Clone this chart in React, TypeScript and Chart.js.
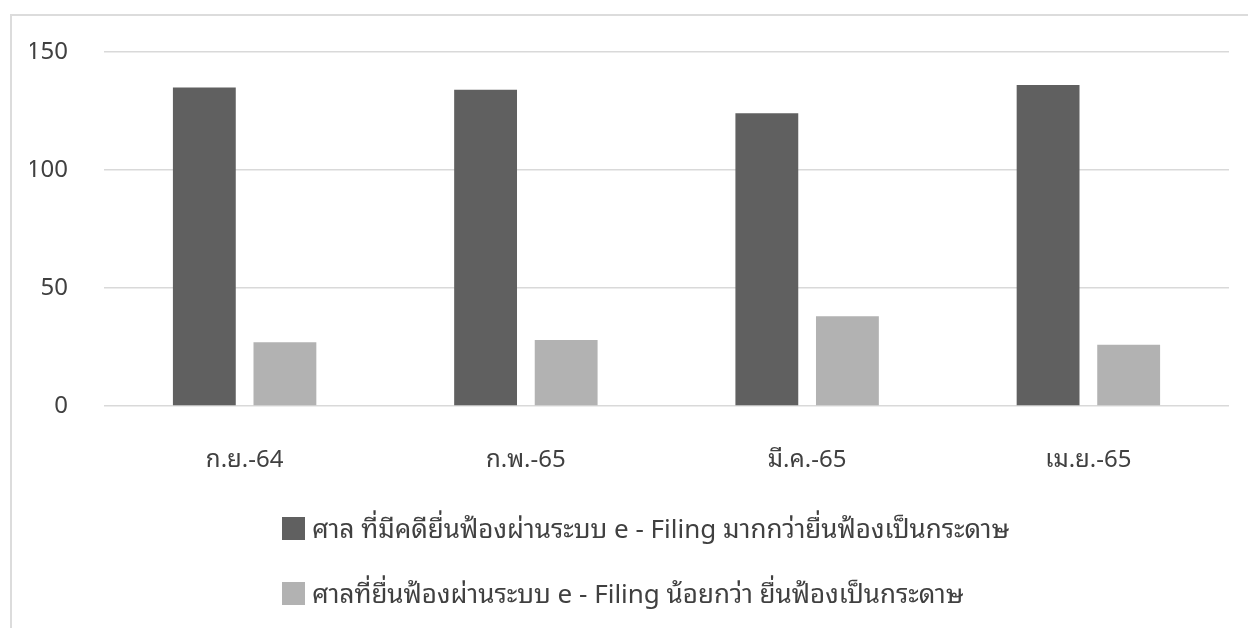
import React, { useEffect, useRef } from 'react';
import { Chart, registerables } from 'chart.js';

Chart.register(...registerables);

// Months shown on the category axis
const categories = ['ก.ย.-64', 'ก.พ.-65', 'มี.ค.-65', 'เม.ย.-65'];

// Series names
const seriesLabels = [
  'ศาล ที่มีคดียื่นฟ้องผ่านระบบ e - Filing มากกว่ายื่นฟ้องเป็นกระดาษ',
  'ศาลที่ยื่นฟ้องผ่านระบบ e - Filing น้อยกว่า ยื่นฟ้องเป็นกระดาษ',
];

// Number of courts per month
const moreThanPaper = [135, 134, 124, 136];
const lessThanPaper = [27, 28, 38, 26];

// Value axis
const yMin = 0;
const yMax = 150;
const yStep = 50;

const seriesColors = ['#606060', '#b2b2b2'];

const FONT =
  '"Noto Sans Thai Looped", "Noto Sans Thai", "Leelawadee UI", Tahoma, "Noto Sans", "Open Sans", sans-serif';
const TEXT_COLOR = '#404040';

export default function App() {
  const canvasRef = useRef<HTMLCanvasElement>(null);

  useEffect(() => {
    const canvas = canvasRef.current;
    if (!canvas) return;
    const chart = new Chart(canvas, {
      type: 'bar',
      data: {
        labels: categories,
        datasets: [
          {
            label: seriesLabels[0],
            data: moreThanPaper,
            backgroundColor: seriesColors[0],
            categoryPercentage: 0.573,
            barPercentage: 0.78,
          },
          {
            label: seriesLabels[1],
            data: lessThanPaper,
            backgroundColor: seriesColors[1],
            categoryPercentage: 0.573,
            barPercentage: 0.78,
          },
        ],
      },
      options: {
        responsive: false,
        animation: false,
        layout: { padding: { left: 30, top: 52, right: 19, bottom: 122 } },
        plugins: {
          legend: { display: false },
          tooltip: { enabled: false },
        },
        scales: {
          x: {
            grid: { display: false },
            border: { display: false },
            ticks: {
              padding: 32,
              color: TEXT_COLOR,
              font: { family: FONT, size: 24 },
            },
            afterFit: (scale: any) => {
              scale.height = 100;
            },
          },
          y: {
            min: yMin,
            max: yMax,
            ticks: {
              stepSize: yStep,
              padding: 36,
              color: TEXT_COLOR,
              font: { family: FONT, size: 24 },
            },
            grid: { color: '#d9d9d9', lineWidth: 1.5, drawTicks: false },
            border: { display: false },
            afterFit: (scale: any) => {
              scale.width = 74;
            },
          },
        },
      },
    });
    return () => chart.destroy();
  }, []);

  return (
    <div
      style={{
        position: 'fixed',
        left: 0,
        top: 0,
        width: 1248,
        height: 628,
        overflow: 'hidden',
        background: '#ffffff',
        fontFamily: FONT,
      }}
    >
      <div
        style={{
          position: 'absolute',
          left: 10,
          top: 14,
          width: 1300,
          height: 700,
          borderLeft: '2px solid #dcdcdc',
          borderTop: '2px solid #dcdcdc',
        }}
      />
      <canvas
        ref={canvasRef}
        width={1248}
        height={628}
        style={{ position: 'absolute', left: 0, top: 0 }}
      />
      {seriesLabels.map((label, i) => (
        <div
          key={label}
          style={{
            position: 'absolute',
            left: 282,
            top: 517 + i * 65,
            height: 23,
            display: 'flex',
            alignItems: 'center',
            whiteSpace: 'nowrap',
          }}
        >
          <span
            style={{
              display: 'inline-block',
              width: 23,
              height: 23,
              background: seriesColors[i],
              marginRight: 7,
              flex: '0 0 auto',
            }}
          />
          <span
            style={{
              fontSize: 26,
              lineHeight: '23px',
              color: TEXT_COLOR,
              position: 'relative',
              top: -2,
            }}
          >
            {label}
          </span>
        </div>
      ))}
    </div>
  );
}
